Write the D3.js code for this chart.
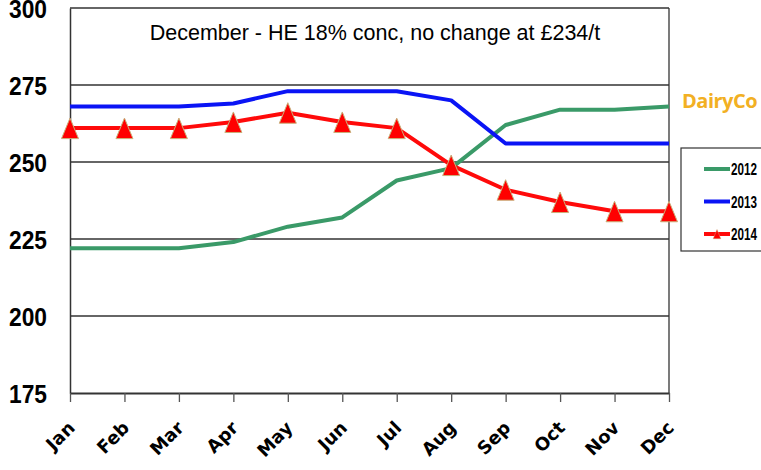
<!DOCTYPE html>
<html>
<head>
<meta charset="utf-8">
<script src="https://cdn.jsdelivr.net/npm/d3@7"></script>
<style>
  body { margin: 0; background: #fff; }
</style>
</head>
<body>
<script>
// values (£/t)
const months = ["Jan", "Feb", "Mar", "Apr", "May", "Jun", "Jul", "Aug", "Sep", "Oct", "Nov", "Dec"]
const y2012 = [222, 222, 222, 224, 229, 232, 244, 248, 262, 267, 267, 268]
const y2013 = [268, 268, 268, 269, 273, 273, 273, 270, 256, 256, 256, 256]
const y2014 = [261, 261, 261, 263, 266, 263, 261, 249, 241, 237, 234, 234]
const yTicks = [175, 200, 225, 250, 275, 300]
const seriesNames = ["2012", "2013", "2014"]
const title = "December - HE 18% conc, no change at £234/t"

const width = 761, height = 470
const marginLeft = 70, marginRight = 92, marginTop = 8, marginBottom = 77

const series = [
  {name: seriesNames[0], values: y2012, color: "#3a9a68", marker: false},
  {name: seriesNames[1], values: y2013, color: "#0a14f5", marker: false},
  {name: seriesNames[2], values: y2014, color: "#ff0a0a", marker: true},
]

const x = d3.scalePoint(months, [marginLeft, width - marginRight])
const y = d3.scaleLinear([175, 300], [height - marginBottom, marginTop])

const svg = d3.select("body").append("svg")
  .attr("width", width)
  .attr("height", height)
  .attr("viewBox", [0, 0, width, height])

// gridlines
svg.append("g")
  .selectAll("line")
  .data(yTicks.filter(d => d > 175))
  .join("line")
  .attr("x1", marginLeft)
  .attr("x2", width - marginRight)
  .attr("y1", d => y(d))
  .attr("y2", d => y(d))
  .attr("stroke", "#333")
  .attr("stroke-width", 1.3)

// right border
svg.append("line")
  .attr("x1", width - marginRight).attr("x2", width - marginRight)
  .attr("y1", marginTop).attr("y2", height - marginBottom)
  .attr("stroke", "#333").attr("stroke-width", 1.3)

// y axis (narrow bold labels, squeezed since no narrow font is installed)
svg.append("g")
  .attr("transform", `translate(${marginLeft},0)`)
  .call(d3.axisLeft(y).tickValues(yTicks).tickSize(0).tickPadding(23))
  .call(g => g.select(".domain").attr("stroke", "#333").attr("stroke-width", 1.5))
  .call(g => g.selectAll("text")
    .attr("font-family", "'Liberation Sans', Arial, sans-serif")
    .attr("font-weight", "bold")
    .attr("font-size", 26)
    .attr("textLength", 38)
    .attr("lengthAdjust", "spacingAndGlyphs")
    .attr("dy", "0.36em")
    .attr("fill", "#000"))

// x axis
svg.append("g")
  .attr("transform", `translate(0,${height - marginBottom})`)
  .call(d3.axisBottom(x).tickSize(9).tickSizeOuter(0).tickFormat(""))
  .call(g => g.select(".domain").attr("stroke", "#333").attr("stroke-width", 2.2))
  .call(g => g.selectAll(".tick line").attr("stroke", "#555").attr("stroke-width", 1.3))

svg.append("g")
  .selectAll("text")
  .data(months)
  .join("text")
  .attr("transform", d => `translate(${x(d) + 6},${height - marginBottom + 36}) rotate(-45)`)
  .attr("text-anchor", "end")
  .attr("font-family", "'DejaVu Sans', sans-serif")
  .attr("font-weight", "bold")
  .attr("font-size", 18)
  .attr("fill", "#000")
  .text(d => d)

// lines
const line = d3.line()
  .x((d, i) => x(months[i]))
  .y(d => y(d))

svg.append("g")
  .selectAll("path")
  .data(series)
  .join("path")
  .attr("fill", "none")
  .attr("stroke", d => d.color)
  .attr("stroke-width", 4)
  .attr("stroke-linejoin", "round")
  .attr("d", d => line(d.values))

// triangle markers for 2014
const tri = "M0,-10L8.5,10.5L-8.5,10.5Z"
svg.append("g")
  .selectAll("path")
  .data(y2014)
  .join("path")
  .attr("transform", (d, i) => `translate(${x(months[i])},${y(d)})`)
  .attr("d", tri)
  .attr("fill", "#ff0000")
  .attr("stroke", "#c9b07a")
  .attr("stroke-width", 1)

// title
svg.append("text")
  .attr("x", 375)
  .attr("y", 40)
  .attr("text-anchor", "middle")
  .attr("font-family", "'Liberation Sans', Arial, sans-serif")
  .attr("font-size", 21.5)
  .attr("fill", "#000")
  .text(title)

// logo text
svg.append("text")
  .attr("x", 682)
  .attr("y", 108)
  .attr("font-family", "'Open Sans', 'Lato', sans-serif")
  .attr("font-weight", "bold")
  .attr("font-size", 20)
  .attr("letter-spacing", -0.5)
  .attr("fill", "#f2b023")
  .text("DairyCo")

// legend
const legend = svg.append("g")
legend.append("rect")
  .attr("x", 681).attr("y", 148)
  .attr("width", 100).attr("height", 103)
  .attr("fill", "#fff")
  .attr("stroke", "#333")
  .attr("stroke-width", 1.2)

const ly = d3.scalePoint(seriesNames, [169, 234])
const item = legend.selectAll("g")
  .data(series)
  .join("g")
  .attr("transform", d => `translate(0,${ly(d.name)})`)
item.append("line")
  .attr("x1", 704).attr("x2", 730)
  .attr("stroke", d => d.color)
  .attr("stroke-width", 4)
item.filter(d => d.marker).append("path")
  .attr("transform", "translate(717,0) scale(0.45)")
  .attr("d", tri)
  .attr("fill", "#ff0000")
  .attr("stroke", "#c9b07a")
item.append("text")
  .attr("x", 731)
  .attr("y", 6)
  .attr("font-family", "'Liberation Sans', Arial, sans-serif")
  .attr("font-weight", "bold")
  .attr("font-size", 17)
  .attr("textLength", 26)
  .attr("lengthAdjust", "spacingAndGlyphs")
  .attr("fill", "#000")
  .text(d => d.name)
</script>
</body>
</html>
